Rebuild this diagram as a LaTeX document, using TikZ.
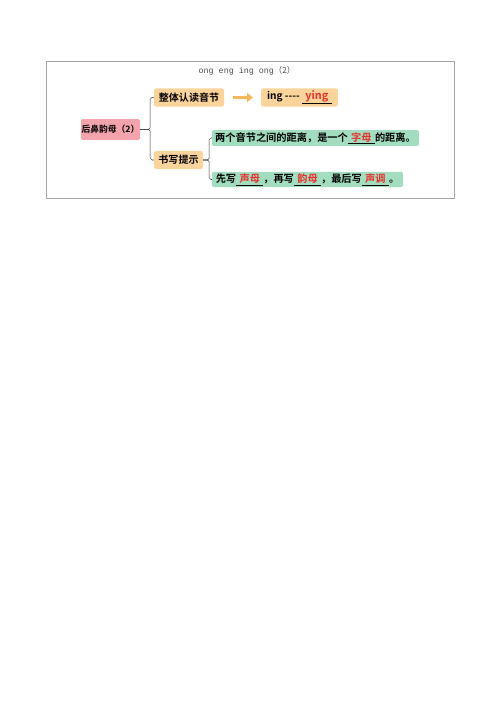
\documentclass[tikz,border=0pt]{standalone}
\usepackage{fontspec}
\newfontfamily\cjk[BoldFont={Noto Sans CJK SC Bold}]{Noto Sans CJK SC}
\setmonofont{Liberation Mono}
\usetikzlibrary{arrows.meta}
\definecolor{rootpink}{HTML}{F2A3AC}
\definecolor{boxorange}{HTML}{FBD49C}
\definecolor{boxgreen}{HTML}{A3DDC0}
\definecolor{arroworange}{HTML}{F6B65A}
\definecolor{fillred}{HTML}{E8302A}
\newcommand{\fillin}[1]{\underline{\hspace{4pt}\textcolor{fillred}{#1}\hspace{4pt}}}

\begin{document}
\begin{tikzpicture}[x=0.42mm,y=-0.42mm,
    rootbox/.style={fill=rootpink,rounded corners=2pt,inner sep=0pt,
      font=\cjk\bfseries\fontsize{10.5}{12}\selectfont},
    orangebox/.style={fill=boxorange,rounded corners=2pt,inner sep=0pt,
      minimum height=7.6mm,font=\cjk\bfseries\fontsize{12}{14}\selectfont},
    greenbox/.style={fill=boxgreen,rounded corners=2pt,inner sep=0pt,
      font=\cjk\bfseries\fontsize{12.2}{14}\selectfont},
    branch/.style={draw=black!80,line width=0.6pt,rounded corners=2pt}]
    \useasboundingbox (0,0) rectangle (500,707);
    \draw[gray!70,line width=0.8pt] (46,61) rectangle (454,198);

    % title
    \node[text=black!70,font=\ttfamily\fontsize{10}{12}\selectfont] (title) at (247,71)
      {ong eng ing ong{\cjk（2）}};

    % boxes
    \node[rootbox,minimum width=24.8mm,minimum height=8.8mm] (root) at (110.5,129.5) {后鼻韵母（2）};
    \node[orangebox,minimum width=29.4mm] (whole) at (189,97.5) {整体认读音节};
    \node[orangebox,minimum width=32.3mm] (ying) at (299.5,97.5)
      {ing ---- \fillin{\fontsize{13}{14}\selectfont ying}};
    \node[orangebox,minimum width=20.6mm] (tips) at (178.5,160) {书写提示};
    \node[greenbox,minimum width=86.9mm,minimum height=6.7mm] (gap) at (315.5,138)
      {两个音节之间的距离，是一个\fillin{字母}的距离。};
    \node[greenbox,minimum width=80.2mm,minimum height=6.5mm] (order) at (307.5,179.5)
      {先写\fillin{声母}，再写\fillin{韵母}，最后写\fillin{声调}。};

    % branches
    \draw[branch] (root.east) -- ++(10,0) |- (whole.west);
    \draw[branch] (root.east) -- ++(10,0) |- (tips.west);
    \draw[branch] (tips.east) -- ++(6,0) |- (gap.west);
    \draw[branch] (tips.east) -- ++(6,0) |- (order.west);

    \draw[arroworange,line width=4pt,-{Triangle[length=7pt,width=11pt]},
      shorten <=9*0.42mm,shorten >=8*0.42mm] (whole) -- (ying);
  \end{tikzpicture}
\end{document}
